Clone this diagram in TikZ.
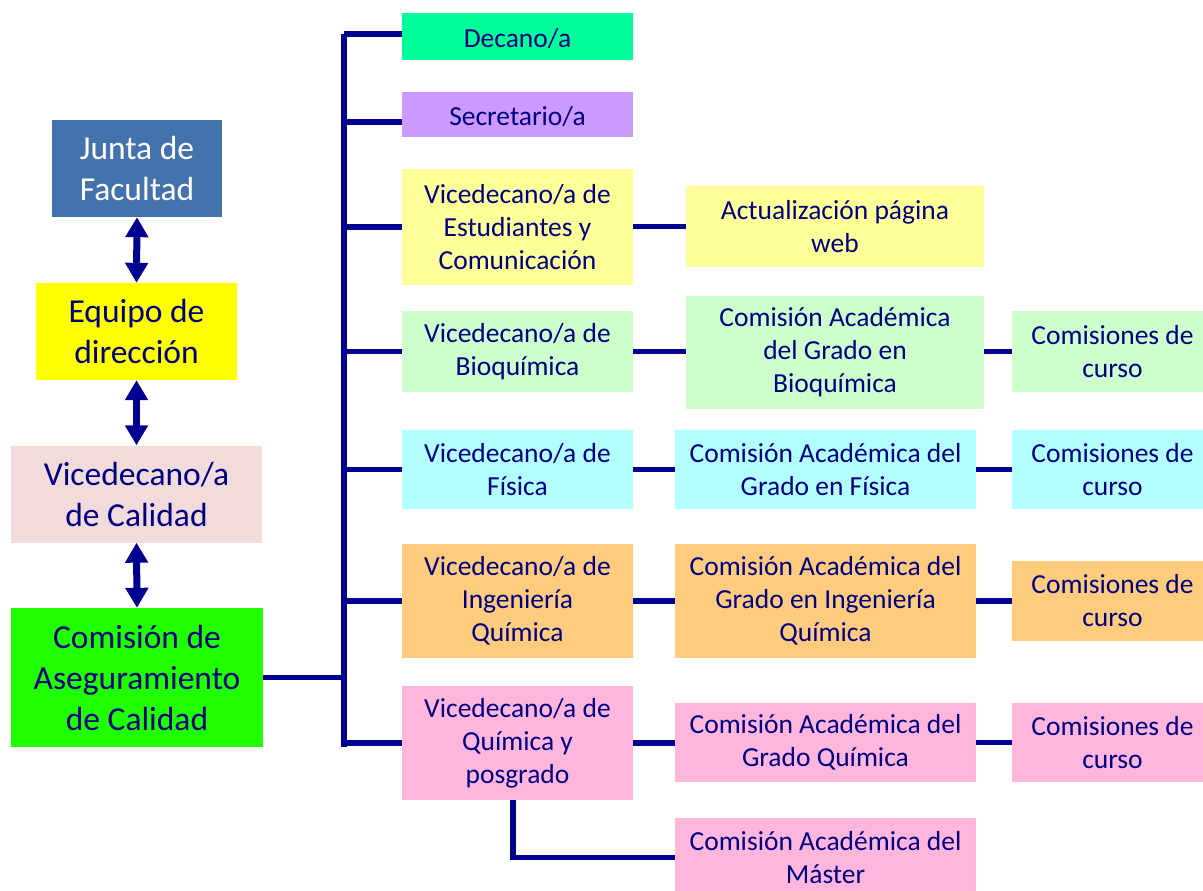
\documentclass[tikz,border=0pt]{standalone}
\usepackage{fontspec}
\setmainfont{Carlito}
\usetikzlibrary{arrows.meta}
\definecolor{txt}{RGB}{0,0,128}
\definecolor{ln}{RGB}{0,0,145}
\definecolor{cjunta}{RGB}{68,114,172}
\definecolor{cequipo}{RGB}{255,255,0}
\definecolor{ccal}{RGB}{242,220,219}
\definecolor{ccac}{RGB}{32,255,0}
\definecolor{cdec}{RGB}{0,255,153}
\definecolor{csec}{RGB}{204,153,255}
\definecolor{cest}{RGB}{255,255,153}
\definecolor{cbio}{RGB}{204,255,204}
\definecolor{cfis}{RGB}{179,255,255}
\definecolor{ciq}{RGB}{255,204,125}
\definecolor{cqui}{RGB}{255,182,221}
\tikzset{
  box/.style={rectangle, inner sep=0pt, align=center, text=txt,
    font=\fontsize{27.5}{33}\selectfont, execute at begin node={\rule{0pt}{24pt}}},
  bigbox/.style={rectangle, inner sep=0pt, align=center, text=txt,
    font=\fontsize{33.5}{41}\selectfont, execute at begin node={\rule{0pt}{27pt}}},
  conn/.style={draw=ln, line width=5.5pt},
  dblarrow/.style={draw=ln, line width=7pt, {Triangle[width=22pt,length=20pt]}-{Triangle[width=22pt,length=20pt]}, ln},
}
\begin{document}
\begin{tikzpicture}[x=1pt,y=-1pt]
\useasboundingbox (0,0) rectangle (1203,891);
% left column
\node[bigbox, fill=cjunta, text=white, minimum width=170pt, minimum height=97pt] (junta) at (137,168.5) {Junta de\\Facultad};
\node[bigbox, fill=cequipo, minimum width=201pt, minimum height=97pt] (equipo) at (136.5,331.5) {Equipo de\\dirección};
\node[bigbox, fill=ccal, minimum width=251pt, minimum height=97pt] (cal) at (136.5,494) {Vicedecano/a\\de Calidad};
\node[bigbox, fill=ccac, minimum width=252pt, minimum height=139pt] (cac) at (137,677.5) {Comisión de\\Aseguramiento\\de Calidad};
\draw[dblarrow] (junta.south) -- (equipo.north);
\draw[dblarrow] (equipo.south) -- (cal.north);
\draw[dblarrow] (cal.south) -- (cac.north);
% second column
\node[box, fill=cdec, minimum width=231pt, minimum height=47pt] (dec) at (517.5,36.5) {Decano/a};
\node[box, fill=csec, minimum width=231pt, minimum height=45pt] (sec) at (517.5,114.5) {Secretario/a};
\node[box, fill=cest, minimum width=231pt, minimum height=116pt] (est) at (517.5,227) {Vicedecano/a de\\Estudiantes y\\Comunicación};
\node[box, fill=cbio, minimum width=231pt, minimum height=81pt] (bio) at (517.5,351.5) {Vicedecano/a de\\Bioquímica};
\node[box, fill=cfis, minimum width=231pt, minimum height=79pt] (fis) at (517.5,469.5) {Vicedecano/a de\\Física};
\node[box, fill=ciq, minimum width=231pt, minimum height=114pt] (iq) at (517.5,601) {Vicedecano/a de\\Ingeniería\\Química};
\node[box, fill=cqui, minimum width=231pt, minimum height=114pt] (qui) at (517.5,743) {Vicedecano/a de\\Química y\\posgrado};
% trunk
\coordinate (ttop) at (344,34);
\coordinate (tbot) at (344,747);
\draw[conn] (ttop) -- (tbot);
\draw[conn] (cac.east) -- (cac.east -| ttop);
\draw[conn] (ttop) -- (ttop -| dec.west);
\draw[conn] (ttop |- 0,122) -- (sec.west |- 0,122);
\draw[conn] (est.west -| ttop) -- (est.west);
\draw[conn] (bio.west -| ttop) -- (bio.west);
\draw[conn] (fis.west -| ttop) -- (fis.west);
\draw[conn] (iq.west -| ttop) -- (iq.west);
\draw[conn] (qui.west -| ttop) -- (qui.west);
% third column
\node[box, fill=cest, minimum width=298pt, minimum height=81pt] (act) at (835,226.5) {Actualización página\\web};
\node[box, fill=cbio, minimum width=298pt, minimum height=113pt] (cabio) at (835,352.5) {Comisión Académica\\del Grado en\\Bioquímica};
\node[box, fill=cfis, minimum width=301pt, minimum height=79pt] (cafis) at (825.5,469.5) {Comisión Académica del\\Grado en Física};
\node[box, fill=ciq, minimum width=301pt, minimum height=114pt] (caiq) at (825.5,601) {Comisión Académica del\\Grado en Ingeniería\\Química};
\node[box, fill=cqui, minimum width=301pt, minimum height=79pt] (caq) at (825.5,742.5) {Comisión Académica del\\Grado Química};
\node[box, fill=cqui, minimum width=301pt, minimum height=79pt] (mas) at (825.5,857.5) {Comisión Académica del\\Máster};
% fourth column (cut by the right edge)
\node[box, fill=cbio, minimum width=201pt, minimum height=81pt] (cbio4) at (1112.5,351.5) {Comisiones de\\curso};
\node[box, fill=cfis, minimum width=201pt, minimum height=79pt] (cfis4) at (1112.5,469.5) {Comisiones de\\curso};
\node[box, fill=ciq, minimum width=201pt, minimum height=80pt] (ciq4) at (1112.5,601) {Comisiones de\\curso};
\node[box, fill=cqui, minimum width=201pt, minimum height=79pt] (cqui4) at (1112.5,742.5) {Comisiones de\\curso};
% connectors
\draw[conn] (est.east |- act.west) -- (act.west);
\draw[conn] (bio.east) -- (bio.east -| cabio.west);
\draw[conn] (fis.east) -- (fis.east -| cafis.west);
\draw[conn] (iq.east) -- (iq.east -| caiq.west);
\draw[conn] (qui.east) -- (qui.east -| caq.west);
\draw[conn] (cabio.east |- cbio4.west) -- (cbio4.west);
\draw[conn] (cafis.east |- cfis4.west) -- (cfis4.west);
\draw[conn] (caiq.east |- ciq4.west) -- (ciq4.west);
\draw[conn] (caq.east |- cqui4.west) -- (cqui4.west);
\draw[conn] ([xshift=-4.5pt]qui.south) |- (mas.west);
\end{tikzpicture}
\end{document}
